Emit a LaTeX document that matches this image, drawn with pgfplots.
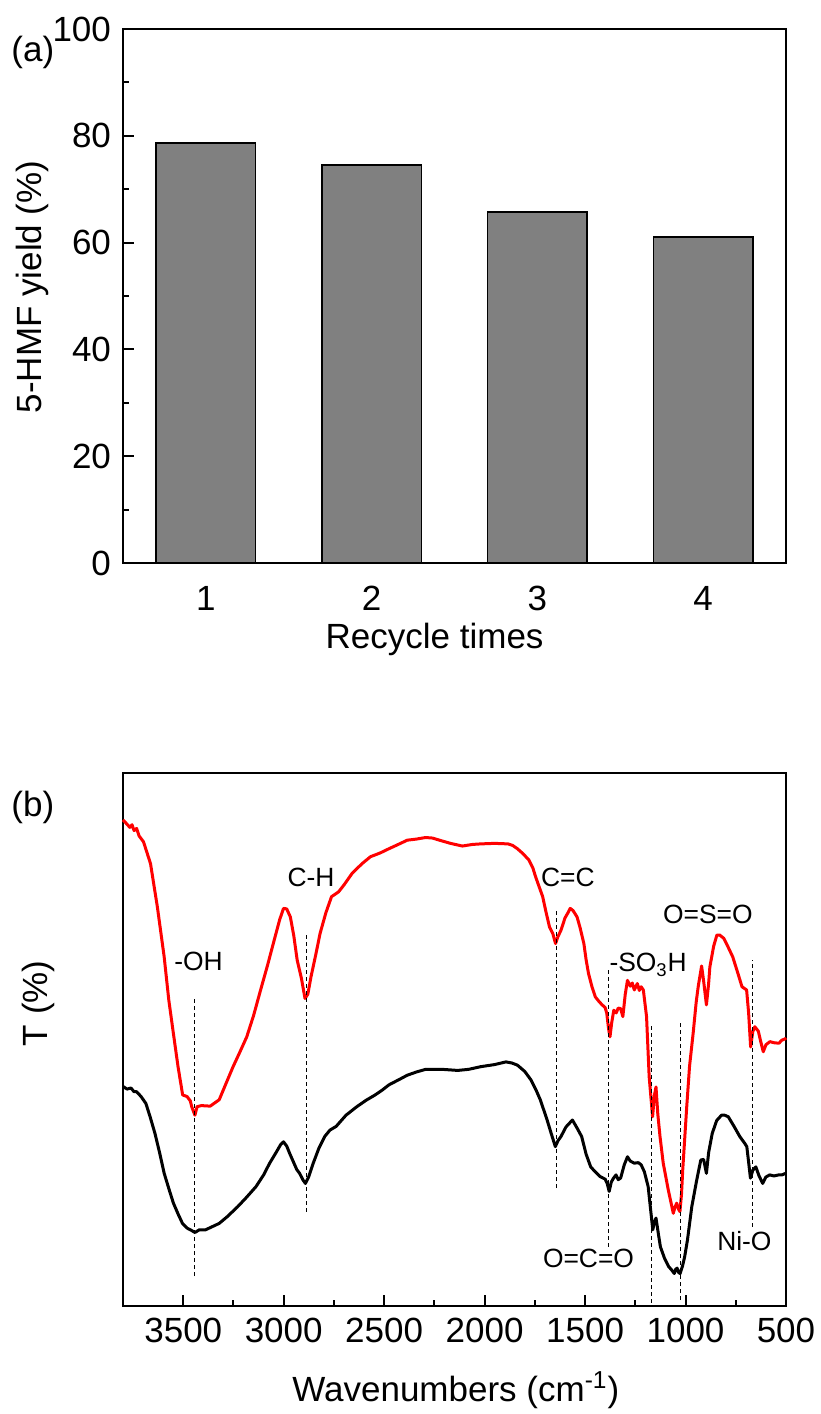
\documentclass[border=0pt]{standalone}
\usepackage{fontspec}
\setmainfont{Liberation Sans}
\usepackage{pgfplots}
\usepackage{pgfplotstable}
\pgfplotsset{compat=1.18}

\definecolor{bargray}{RGB}{128,128,128}

% FTIR spectra (wavenumber, relative transmittance)
\pgfplotstableread{
w T
3800 91.2
3780 90.4
3766 89.8
3755 90.3
3745 89.2
3732 89.6
3720 88.2
3698 87.1
3663 83.0
3629 74.9
3595 65.5
3572 57.4
3549 51.1
3526 44.9
3503 39.6
3481 39.3
3465 38.5
3458 37.4
3442 35.8
3431 37.4
3410 37.6
3366 37.5
3321 38.7
3290 41.5
3252 44.9
3220 47.5
3184 50.5
3150 54.5
3115 59.3
3080 64.0
3047 68.7
3020 72.5
3001 74.6
2985 74.5
2967 73.0
2950 69.5
2933 64.9
2912 61.5
2894 57.7
2880 58.5
2864 61.8
2840 66.0
2819 69.9
2790 73.8
2762 76.8
2727 77.7
2700 79.0
2659 81.2
2610 83.0
2568 84.3
2520 85.0
2476 85.8
2430 86.6
2385 87.4
2340 87.6
2294 87.9
2260 87.8
2225 87.4
2170 86.8
2111 86.3
2060 86.6
2020 86.7
1950 86.8
1883 86.7
1860 86.4
1837 85.8
1810 84.9
1780 83.7
1760 82.2
1746 80.5
1730 78.8
1711 76.8
1695 74.0
1677 71.1
1660 69.8
1647 68.0
1635 69.3
1620 70.5
1600 72.8
1585 73.8
1574 74.6
1560 74.2
1540 73.0
1525 71.0
1506 68.0
1495 65.0
1483 62.4
1465 59.8
1449 58.0
1430 57.1
1415 56.5
1400 56.0
1392 54.9
1383 52.0
1376 50.5
1368 53.0
1357 55.5
1345 55.0
1335 55.9
1323 55.8
1312 54.3
1300 58.5
1289 61.1
1275 60.0
1265 60.6
1255 59.3
1240 60.5
1230 59.2
1221 59.9
1210 59.3
1194 54.3
1181 43.0
1164 35.5
1155 39.5
1147 41.1
1138 36.0
1127 31.8
1111 26.8
1086 21.8
1070 19.0
1061 17.4
1052 18.6
1044 19.3
1035 18.2
1028 17.7
1020 21.0
1014 25.5
994 37.4
980 45.0
962 51.2
947 57.0
937 59.9
920 63.8
910 61.0
896 56.5
885 60.5
879 63.6
860 67.5
844 69.6
830 69.6
810 69.0
790 67.5
765 65.5
740 62.5
719 59.9
696 59.3
686 55.0
676 48.6
665 51.5
655 52.4
645 51.9
638 51.6
625 49.5
613 47.7
600 49.0
580 49.6
560 49.4
535 49.3
520 49.9
505 50.1
500 50.3
}\redspec

\pgfplotstableread{
w T
3800 41.2
3780 40.7
3760 40.9
3745 40.2
3732 40.2
3710 39.3
3686 38.0
3665 35.5
3641 32.4
3618 28.8
3595 24.9
3570 21.8
3549 19.3
3525 17.2
3504 15.5
3480 14.6
3460 14.2
3442 13.8
3420 14.3
3389 14.3
3355 14.9
3321 15.5
3280 16.8
3230 18.6
3185 20.4
3138 22.4
3100 24.6
3070 26.8
3035 29.0
3015 30.3
3001 30.8
2985 30.0
2970 28.6
2956 27.4
2935 25.6
2921 24.9
2905 23.7
2892 23.0
2875 24.3
2853 26.8
2825 29.6
2796 31.8
2770 33.0
2739 33.7
2690 35.8
2636 37.4
2590 38.6
2545 39.6
2510 40.5
2476 41.5
2430 42.4
2385 43.3
2340 43.9
2294 44.4
2210 44.4
2134 44.2
2080 44.4
2020 44.9
1950 45.3
1894 45.8
1865 45.6
1837 45.2
1800 44.0
1769 42.4
1745 40.6
1723 38.7
1705 36.7
1689 34.9
1668 32.3
1648 29.9
1635 31.0
1620 31.8
1595 33.6
1563 34.9
1540 33.4
1517 31.8
1495 28.5
1472 26.1
1450 25.2
1426 24.3
1400 23.8
1390 23.0
1380 21.5
1370 23.2
1360 23.9
1346 24.6
1335 23.7
1323 24.0
1305 26.5
1289 28.0
1275 27.2
1255 26.8
1235 26.9
1221 26.5
1205 25.2
1186 22.4
1175 18.5
1163 14.3
1155 15.8
1147 16.5
1135 13.5
1125 11.1
1105 9.0
1084 7.4
1070 6.8
1056 6.1
1049 6.9
1042 7.1
1035 6.3
1027 6.1
1015 7.5
1004 9.3
990 12.5
969 18.6
945 23.5
924 27.4
910 27.5
896 24.9
885 28.8
867 32.4
845 34.8
821 35.8
805 35.8
787 35.5
760 33.8
730 31.8
705 30.5
695 29.9
686 27.0
677 24.0
665 25.5
650 26.1
635 24.5
616 23.0
600 24.2
581 24.6
560 24.4
536 24.6
520 24.6
508 24.8
500 24.9
}\blackspec

\pgfplotsset{
  frame/.style={
    scale only axis,
    axis line style={line width=1pt},
    tick style={line width=1pt, black},
    major tick length=5.5pt, minor tick length=3pt,
    tick align=inside,
    /pgf/number format/assume math mode=true,
    /pgf/number format/1000 sep={},
    label style={font=\fontsize{17.5}{21}\selectfont},
    ticklabel style={font=\fontsize{17.5}{21}\selectfont},
  },
}

\begin{document}
\fontsize{17.5}{21}\selectfont
\begin{tikzpicture}
\path[use as bounding box] (-61.5pt,14.5pt) rectangle (348.5pt,-692.5pt);

% (a) recycling test
\begin{axis}[frame,
  at={(0,0)}, anchor=north west,
  width=331.5pt, height=267pt,
  ybar, bar width=0.6,
  xmin=0.5, xmax=4.5, ymin=0, ymax=100,
  xtick={1,2,3,4}, ytick={0,20,40,60,80,100},
  minor y tick num=1,
  xtick pos=bottom, ytick pos=left,
  x tick style={draw=none},
  xlabel={Recycle times},
  ylabel={5-HMF yield (\%)},
  xlabel style={at={(axis description cs:0.47,-0.143)}, anchor=center},
  ylabel style={at={(axis description cs:-0.137,0.517)}, anchor=center, rotate=0},
  clip=false,
  ]
  \addplot[fill=bargray, draw=black, line width=0.8pt]
    coordinates {(1,78.7)(2,74.5)(3,65.7)(4,61.0)};
  \node at (axis description cs:-0.136,0.957) {(a)};
\end{axis}

% (b) FTIR
\begin{axis}[frame,
  at={(0,-372pt)}, anchor=north west,
  width=331.5pt, height=266.5pt,
  x dir=reverse,
  xmin=500, xmax=3800, ymin=0, ymax=100,
  xtick={500,1000,...,3500}, ytick=\empty,
  minor x tick num=1,
  xtick pos=bottom,
  xlabel={Wavenumbers (cm\textsuperscript{-1})},
  ylabel={T (\%)},
  xlabel style={at={(axis description cs:0.502,-0.158)}, anchor=center},
  ylabel style={at={(axis description cs:-0.128,0.568)}, anchor=center, rotate=0},
  clip=false,
  ]
  \addplot[red, line width=1.5pt, line join=round] table[x=w, y=T] {\redspec};
  \addplot[black, line width=1.5pt, line join=round] table[x=w, y=T] {\blackspec};
  % band markers
  \addplot[black, line width=0.5pt, dash pattern=on 2pt off 1.5pt] coordinates {(3442,5.6)(3442,57.7)};
  \addplot[black, line width=0.5pt, dash pattern=on 2pt off 1.5pt] coordinates {(2885,17.7)(2885,69.9)};
  \addplot[black, line width=0.5pt, dash pattern=on 2pt off 1.5pt] coordinates {(1640,22.1)(1640,74.3)};
  \addplot[black, line width=0.5pt, dash pattern=on 2pt off 1.5pt] coordinates {(1385,11.1)(1385,63.4)};
  \addplot[black, line width=0.5pt, dash pattern=on 2pt off 1.5pt] coordinates {(1170,0.6)(1170,52.7)};
  \addplot[black, line width=0.5pt, dash pattern=on 2pt off 1.5pt] coordinates {(1026,1.1)(1026,53.3)};
  \addplot[black, line width=0.5pt, dash pattern=on 2pt off 1.5pt] coordinates {(668,14.9)(668,65.0)};
  \begin{scope}[font=\fontsize{13.2}{16}\selectfont]
  \node at (axis cs:3424,64.6) {-OH};
  \node at (axis cs:2864,80.5) {C-H};
  \node at (axis cs:1586,80.5) {C=C};
  \node at (axis cs:1186,64.0) {-SO\textsubscript{3}H};
  \node at (axis cs:889,73.4) {O=S=O};
  \node at (axis cs:1483,8.9) {O=C=O};
  \node at (axis cs:707,12.1) {Ni-O};
  \end{scope}
  \node at (axis description cs:-0.136,0.936) {(b)};
\end{axis}
\end{tikzpicture}
\end{document}
